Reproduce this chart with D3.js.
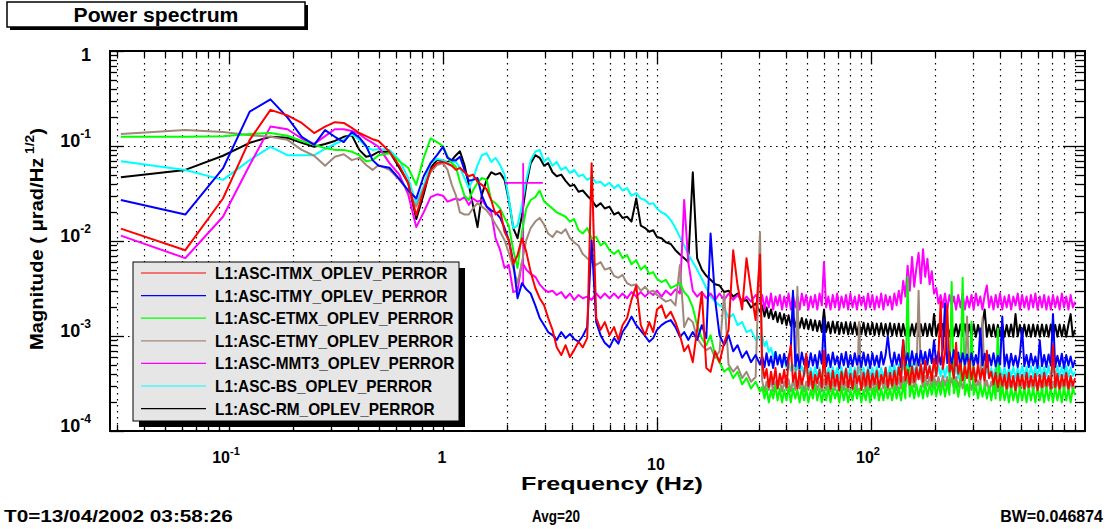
<!DOCTYPE html>
<html><head><meta charset="utf-8">
<script src="https://cdn.jsdelivr.net/npm/d3@7"></script>
<style>
body{margin:0;background:#fff}
svg{display:block}
text{font-family:"Liberation Sans",Arial,Helvetica,sans-serif;font-weight:bold;fill:#000}
</style>
</head><body>
<svg id="c" width="1110" height="529"></svg>
<script>
// ---------------- DATA ----------------
const freqLow = [0.03125,0.0625,0.09375,0.125,0.15625,0.1875,0.21875,0.25,0.28125,0.3125,0.34375,0.375,0.40625,0.4375,0.46875,0.5,0.5625,0.625,0.6875,0.75,0.8125,0.875,0.9375,1.0];
const freqMid = [1.05,1.1,1.15,1.2,1.26,1.32,1.38,1.45,1.52,1.6,1.68,1.76,1.85,1.94,2.03,2.13,2.23,2.34,2.45,2.57,2.7,2.83,2.97,3.1,3.25,3.4,3.57,3.74,3.92,4.1,4.3,4.5,4.72,4.95,5.2,5.45,5.7,6.0,6.3,6.6,6.9,7.25,7.6,8.0,8.4,8.8,9.2,9.6,10];
const freqHigh1 = [10.5,11,11.6,12.2,12.8,13.4,14,14.7,15.4,16.2,17,17.8,18.7,19.6,20.6,21.6,22.7,23.8,25,26.2,27.5,28.9,30.3];
const freqHigh2 = [31.0,31.8,32.5,33.3,34.1,34.9,35.8,36.6,37.5,38.4,39.3,40.3,41.2,42.2,43.2,44.3,45.3,46.4,47.5,48.7,49.8,51.0,52.3,53.5,54.8,56.1,57.5,58.9,60.3,61.7,63.2,64.7,66.3,67.9,69.5,71.1,72.8,74.6,76.4,78.2,80.1,82.0,84.0,86.0,88.0,90.1,92.3,94.5,96.8,99.1,101.5,103.9,106.4,109,111.6,114.3,117,119.8,122.7,125.6,128.6,131.7,134.9,138.1,141.4,144.8,148.3,151.8,155.5,159.2,163,166.9,170.9,175,179.2,183.5,187.9,192.4,197,201.8,206.6,211.5,216.6,221.8,227.1,232.6,238.2,243.9,249.7,255.7,261.8,268.1,274.5,281.1,287.9,294.8,301.8,309.1,316.5,324.1,331.8,339.8,347.9,356.3,364.8,373.6,382.5,391.7,401.1,410.7,420.6,430.7,441,451.6,462.4,473.5,484.9,496.5,508.4,520.6,533.1,545.9,559,572.5,586.2,600.3,614.7,629.5,644.6,660.1,675.9,692.1,708.7,725.7,743.1,760.9,779.2,797.9,817.1,836.7,856.8,877.4,898.4];

const seriesNames = ["L1:ASC-ITMX_OPLEV_PERROR","L1:ASC-ITMY_OPLEV_PERROR","L1:ASC-ETMX_OPLEV_PERROR","L1:ASC-ETMY_OPLEV_PERROR","L1:ASC-MMT3_OPLEV_PERROR","L1:ASC-BS_OPLEV_PERROR","L1:ASC-RM_OPLEV_PERROR"];
const seriesColors = ["#ff0000","#0000ff","#00ff00","#a0887a","#ff00ff","#00ffff","#000000"];

// magnitudes (urad/sqrt(Hz)) on freqLow + freqMid + freqHigh1 + freqHigh2
const itmx = [
0.0135,0.008,0.028,0.116,0.24,0.21,0.175,0.137,0.16,0.178,0.175,0.155,0.137,0.127,0.118,0.113,0.087,0.062,0.041,0.0187,0.034,0.056,0.066,0.068,
0.065,0.062,0.056,0.059,0.053,0.048,0.05,0.042,0.039,0.035,0.027,0.019,0.021,0.0125,0.0102,0.0057,0.0071,0.0107,0.0077,0.0047,0.0032,0.0025,0.0021,0.00155,0.00116,0.00076,0.00063,0.0008,0.0006,0.00071,0.00087,0.00076,0.00095,0.066,0.00155,0.00116,0.0014,0.00102,0.00124,0.00091,0.0013,0.00155,0.0024,0.0034,0.0013,0.00102,0.0014,0.0011,0.0019,
0.0021,0.00155,0.0018,0.0014,0.00102,0.00069,0.0008,0.00053,0.00116,0.0029,0.00046,0.00042,0.00069,0.00053,0.00085,0.00116,0.008,0.0034,0.0019,0.0066,0.003,0.00147,0.0072,
0.00052,0.00036,0.00045,0.00029,0.00042,0.00031,0.00046,0.00028,0.0004,0.00032,
0.00044,0.00029,0.00055,0.0008,0.00033,0.00041,0.00028,0.00043,0.00031,0.0004,
0.00065,0.0003,0.00042,0.00028,0.00039,0.00032,0.00044,0.00029,0.0007,0.00031,
0.00041,0.00028,0.00043,0.0003,0.00039,0.00027,0.00042,0.00031,0.00045,0.00029,
0.0004,0.00028,0.00043,0.00032,0.00038,0.00027,0.00041,0.0003,0.00044,0.00029,
0.0004,0.00031,0.00043,0.00028,0.00039,0.00032,0.00046,0.00029,0.00041,0.0003,
0.00043,0.00031,0.00047,0.00033,0.0009,0.00034,0.00044,0.00031,0.00048,0.00033,
0.00046,0.00035,0.0005,0.00033,0.00055,0.00036,0.00048,0.00034,0.00058,0.00038,
0.0006,0.0023,0.00045,0.00065,0.0021,0.00042,0.0005,0.00036,0.00085,0.0004,
0.00052,0.00034,0.00048,0.00036,0.00056,0.00035,0.00047,0.00033,0.0005,0.00035,
0.00045,0.00034,0.0007,0.00036,0.00042,0.00031,0.00041,0.00029,0.0004,0.0003,
0.00039,0.00028,0.00041,0.00029,0.00038,0.00027,0.0004,0.0003,0.00039,0.00028,
0.00041,0.00029,0.00038,0.0003,0.0004,0.00027,0.00039,0.00029,0.00041,0.0003,
0.00038,0.00028,0.0008,0.00029,0.0004,0.00028,0.00039,0.0003,0.00041,0.00028,
0.00038,0.0003,0.00036];

const itmy = [
0.027,0.019,0.058,0.23,0.31,0.2,0.125,0.103,0.147,0.125,0.11,0.14,0.123,0.1,0.071,0.062,0.059,0.045,0.034,0.028,0.048,0.066,0.08,0.098,
0.075,0.071,0.071,0.077,0.056,0.043,0.044,0.046,0.03,0.023,0.021,0.02,0.0175,0.0137,0.0102,0.006,0.0025,0.0036,0.0031,0.0028,0.0021,0.00155,0.0013,0.0011,0.00102,0.00091,0.0011,0.00095,0.00105,0.00093,0.00087,0.001,0.00124,0.0102,0.0014,0.00102,0.00085,0.00076,0.00095,0.00083,0.0011,0.0013,0.0016,0.0013,0.00114,0.001,0.00087,0.00095,0.00116,
0.0013,0.0014,0.00147,0.00124,0.00098,0.0011,0.00091,0.0011,0.00091,0.0013,0.00095,0.012,0.0024,0.00102,0.0008,0.00102,0.00069,0.0008,0.00059,0.00069,0.00053,0.00063,0.0005,
0.00062,0.00047,0.00066,0.00049,0.00061,0.00046,0.00068,0.0005,0.00063,0.00047,
0.00065,0.00049,0.0006,0.00072,0.003,0.00048,0.00064,0.00046,0.00067,0.0005,
0.00062,0.00047,0.00066,0.00049,0.00063,0.00046,0.00069,0.00051,0.0015,0.00048,
0.00064,0.00047,0.00067,0.0005,0.00061,0.00046,0.00065,0.00049,0.00068,0.00047,
0.00063,0.00048,0.00066,0.0005,0.00062,0.00047,0.00067,0.00049,0.00064,0.00046,
0.00066,0.00049,0.00062,0.00047,0.00068,0.0005,0.00063,0.001,0.00061,0.00048,
0.00067,0.0005,0.00064,0.00047,0.0009,0.00049,0.00066,0.00048,0.00069,0.0005,
0.00065,0.00049,0.0007,0.00051,0.00068,0.0005,0.00072,0.00052,0.0009,0.00051,
0.00069,0.0005,0.00073,0.0022,0.00052,0.00068,0.0005,0.00071,0.00049,0.00067,
0.00048,0.00066,0.0005,0.00064,0.00047,0.00066,0.00049,0.00063,0.00048,0.0012,
0.00049,0.00065,0.00047,0.00063,0.00049,0.00066,0.00048,0.00062,0.0005,0.0016,
0.00048,0.00064,0.00046,0.00065,0.00049,0.00062,0.00047,0.00064,0.0012,0.00048,
0.00063,0.00047,0.00065,0.00049,0.00061,0.00046,0.0009,0.00048,0.00063,0.00047,
0.00064,0.00049,0.0017,0.00047,0.00062,0.00048,0.00065,0.00046,0.00063,0.00049,
0.00061,0.00047,0.00056];

const etmx = [
0.125,0.125,0.127,0.134,0.137,0.128,0.113,0.103,0.095,0.091,0.091,0.087,0.08,0.069,0.071,0.08,0.084,0.069,0.059,0.039,0.075,0.12,0.11,0.1,
0.078,0.066,0.06,0.042,0.03,0.027,0.034,0.041,0.046,0.044,0.027,0.025,0.022,0.0175,0.0145,0.008,0.0052,0.0125,0.022,0.027,0.029,0.034,0.026,0.024,0.022,0.02,0.019,0.018,0.016,0.017,0.013,0.012,0.0137,0.0107,0.011,0.009,0.0097,0.008,0.0073,0.008,0.0066,0.0071,0.0057,0.0063,0.005,0.0055,0.0045,0.0047,0.004,
0.0037,0.0039,0.0032,0.0034,0.0036,0.0029,0.0026,0.002,0.0013,0.00095,0.0008,0.00102,0.00063,0.00053,0.00042,0.00046,0.00036,0.00042,0.00031,0.00036,0.00028,0.00033,0.00026,
0.00029,0.00022,0.00028,0.0002,0.00027,0.00022,0.0003,0.00021,0.00028,0.0002,
0.00027,0.00021,0.00029,0.0002,0.00028,0.00022,0.00027,0.0002,0.00029,0.00021,
0.00028,0.0002,0.00027,0.00022,0.0003,0.00021,0.00028,0.0002,0.00027,0.00021,
0.00029,0.0002,0.00028,0.00022,0.00027,0.0002,0.00029,0.00021,0.00028,0.0002,
0.00027,0.00021,0.00029,0.00022,0.00028,0.0002,0.00027,0.00021,0.00029,0.0002,
0.00028,0.00022,0.0003,0.00021,0.00028,0.00021,0.00029,0.00022,0.00028,0.00021,
0.0003,0.00022,0.00029,0.00021,0.00031,0.00022,0.0042,0.00023,0.0003,0.00022,
0.00031,0.00023,0.0003,0.00022,0.00032,0.00023,0.00031,0.00024,0.00033,0.00023,
0.00032,0.00024,0.00033,0.00023,0.00032,0.00024,0.0037,0.00025,0.00033,0.00023,
0.00032,0.0041,0.00024,0.00031,0.00023,0.0014,0.00024,0.0003,0.00022,0.00031,
0.00023,0.0003,0.00022,0.00029,0.00021,0.0003,0.00022,0.0012,0.00021,0.00029,
0.00021,0.00028,0.0002,0.00029,0.00021,0.00028,0.0002,0.00029,0.00021,0.00028,
0.0002,0.00029,0.00021,0.00028,0.0002,0.00029,0.00021,0.00028,0.0002,0.00029,
0.00021,0.00028,0.0002,0.00029,0.00021,0.00028,0.0002,0.00029,0.00021,0.00028,
0.0002,0.00028,0.00024];

const etmy = [
0.134,0.147,0.14,0.13,0.125,0.116,0.091,0.079,0.062,0.077,0.082,0.071,0.075,0.063,0.056,0.063,0.056,0.044,0.034,0.023,0.036,0.053,0.063,0.066,
0.056,0.039,0.03,0.02,0.019,0.019,0.022,0.025,0.023,0.021,0.018,0.015,0.0125,0.0102,0.0075,0.0052,0.0036,0.006,0.0102,0.0137,0.016,0.0175,0.0148,0.012,0.011,0.0127,0.012,0.0133,0.0107,0.0097,0.0089,0.0073,0.0066,0.006,0.0056,0.006,0.005,0.0052,0.0043,0.0041,0.0044,0.0036,0.0034,0.0035,0.003,0.0033,0.0029,0.003,0.0027,
0.0025,0.0023,0.0024,0.0021,0.0056,0.00124,0.00155,0.0014,0.00095,0.0008,0.00071,0.00076,0.00059,0.00069,0.0028,0.0005,0.00042,0.00048,0.00036,0.00042,0.00033,0.00037,0.0124,
0.00034,0.00026,0.00033,0.00027,0.00035,0.00026,0.00033,0.00028,0.00034,0.00026,
0.00033,0.00027,0.00035,0.00026,0.00034,0.00027,0.0033,0.00028,0.00034,0.00026,
0.00033,0.00027,0.00035,0.00026,0.00034,0.00027,0.00033,0.00026,0.00035,0.00027,
0.00034,0.00026,0.00033,0.00027,0.00035,0.00026,0.00034,0.00027,0.00033,0.00026,
0.00035,0.00027,0.00034,0.00026,0.0014,0.00027,0.00033,0.00026,0.00035,0.00027,
0.00034,0.00026,0.00033,0.00027,0.00035,0.00028,0.00034,0.00027,0.00036,0.00028,
0.00035,0.00027,0.00036,0.00028,0.00037,0.00029,0.00036,0.00028,0.00037,0.00029,
0.00036,0.003,0.00037,0.00029,0.00038,0.0003,0.00037,0.00029,0.00038,0.0003,
0.00037,0.00029,0.00038,0.0003,0.00037,0.00029,0.00036,0.00028,0.00037,0.00029,
0.00036,0.00028,0.00035,0.0016,0.00034,0.00027,0.00035,0.00028,0.00034,0.00027,
0.00155,0.00027,0.00034,0.00026,0.00033,0.00027,0.00034,0.00026,0.00033,0.00027,
0.00034,0.00026,0.00033,0.00027,0.00034,0.00026,0.00033,0.00027,0.00034,0.00026,
0.00033,0.00027,0.00034,0.00026,0.00033,0.00027,0.00034,0.00026,0.00033,0.00027,
0.00034,0.00026,0.00033,0.00027,0.00034,0.00026,0.00033,0.00027,0.00034,0.00026,
0.00033,0.00027,0.0003];

const mmt3 = [
0.0114,0.0066,0.018,0.063,0.16,0.15,0.12,0.105,0.127,0.15,0.15,0.144,0.134,0.118,0.108,0.098,0.066,0.05,0.031,0.014,0.02,0.029,0.031,0.03,
0.026,0.027,0.028,0.027,0.029,0.024,0.028,0.026,0.027,0.023,0.02,0.0107,0.008,0.0052,0.0056,0.0029,0.003,0.006,0.005,0.0045,0.0042,0.0035,0.0031,0.0029,0.003,0.0027,0.0029,0.0025,0.0028,0.0024,0.0027,0.0025,0.0026,0.0024,0.0028,0.0025,0.0028,0.0025,0.0028,0.0025,0.0028,0.0025,0.0029,0.0026,0.0029,0.0026,0.0029,0.0027,0.003,
0.0026,0.003,0.0027,0.0031,0.0028,0.027,0.006,0.003,0.0026,0.0029,0.0025,0.0028,0.0024,0.0028,0.0024,0.0028,0.0024,0.0027,0.0023,0.0026,0.0023,0.0027,0.0023,
0.0027,0.0019,0.0026,0.002,0.0028,0.0019,0.0026,0.0021,0.0027,0.0019,
0.0026,0.002,0.0028,0.0019,0.0027,0.002,0.0026,0.0019,0.0028,0.0021,
0.0027,0.0019,0.0026,0.002,0.0027,0.0019,0.0028,0.0021,0.006,0.002,
0.0026,0.0019,0.0027,0.002,0.0028,0.0019,0.0026,0.002,0.0027,0.0019,
0.0028,0.002,0.0026,0.0019,0.0027,0.0021,0.0026,0.0019,0.0028,0.002,
0.0027,0.0019,0.0026,0.002,0.0028,0.0019,0.0027,0.0021,0.0026,0.0019,
0.0028,0.0021,0.003,0.0022,0.0038,0.0026,0.0055,0.003,0.0068,0.0033,
0.0052,0.0075,0.0036,0.0082,0.0042,0.0065,0.0035,0.0048,0.0028,0.0032,
0.0022,0.0027,0.002,0.0028,0.0019,0.0027,0.0021,0.0026,0.0019,0.0027,
0.002,0.0028,0.0019,0.0026,0.002,0.0027,0.0019,0.0028,0.0021,0.0026,
0.0019,0.0027,0.0034,0.002,0.0026,0.0019,0.0027,0.002,0.0028,0.0019,
0.0026,0.002,0.0027,0.0019,0.0026,0.0021,0.0028,0.0019,0.0027,0.002,
0.0026,0.0019,0.0027,0.002,0.0028,0.0019,0.0026,0.002,0.0027,0.0019,
0.0026,0.0019,0.0027,0.002,0.0026,0.0019,0.0028,0.002,0.0026,0.0019,
0.0027,0.002,0.0023];
// stray MMT3 segments (frequency, magnitude)
const mmt3StrayH = [[1.95,0.041],[2.93,0.041]];
const mmt3StrayV = [[2.37,0.066],[2.37,0.0035]];

const bs = [
0.069,0.056,0.044,0.071,0.098,0.08,0.08,0.08,0.093,0.105,0.116,0.134,0.116,0.098,0.091,0.093,0.091,0.071,0.046,0.025,0.038,0.066,0.073,0.071,
0.066,0.068,0.068,0.059,0.046,0.036,0.044,0.063,0.08,0.084,0.068,0.075,0.063,0.05,0.028,0.0137,0.0145,0.024,0.044,0.071,0.087,0.091,0.068,0.075,0.062,0.068,0.056,0.06,0.052,0.056,0.048,0.05,0.044,0.047,0.041,0.042,0.038,0.041,0.036,0.039,0.034,0.036,0.03,0.032,0.028,0.027,0.0245,0.025,0.022,
0.02,0.019,0.0166,0.0137,0.011,0.009,0.0072,0.006,0.005,0.004,0.0032,0.0026,0.0023,0.0021,0.002,0.00155,0.0017,0.0013,0.0014,0.0011,0.00116,0.00091,0.00098,
0.001,0.00078,0.00088,0.00068,0.00075,0.00061,0.00068,0.00055,0.00062,0.0005,
0.00057,0.00046,0.00053,0.00043,0.0005,0.00041,0.00049,0.0004,0.00048,0.00038,
0.00047,0.00037,0.00046,0.00036,0.00047,0.00037,0.00046,0.00036,0.00047,0.00037,
0.00046,0.00036,0.00047,0.00037,0.00046,0.00036,0.00047,0.00036,0.00046,0.00037,
0.00047,0.00036,0.00046,0.00037,0.00047,0.00036,0.00046,0.00036,0.00047,0.00037,
0.00046,0.00036,0.00047,0.00037,0.00046,0.00036,0.00047,0.00037,0.00048,0.00038,
0.00049,0.00038,0.0005,0.00039,0.00051,0.0004,0.0005,0.00039,0.00051,0.0004,
0.0005,0.00039,0.00051,0.0004,0.0005,0.00039,0.00049,0.00038,0.0005,0.00039,
0.00048,0.00038,0.00049,0.00037,0.00048,0.00038,0.00047,0.00037,0.00048,0.00036,
0.00047,0.00037,0.00046,0.00036,0.00047,0.00037,0.00046,0.00036,0.00047,0.00036,
0.00046,0.00037,0.00047,0.00036,0.00046,0.00036,0.00047,0.00037,0.00046,0.00036,
0.00047,0.00036,0.00046,0.00037,0.00047,0.00036,0.00046,0.00037,0.00048,0.00037,
0.00047,0.00036,0.00048,0.00037,0.00047,0.00038,0.00048,0.00037,0.00047,0.00038,
0.00048,0.00037,0.00047,0.00038,0.00048,0.00037,0.00047,0.00038,0.00048,0.00037,
0.00047,0.00038,0.00042];

const rm = [
0.047,0.056,0.079,0.108,0.125,0.122,0.108,0.098,0.105,0.113,0.125,0.13,0.091,0.077,0.08,0.087,0.087,0.059,0.041,0.017,0.031,0.059,0.071,0.069,
0.068,0.071,0.08,0.088,0.063,0.039,0.024,0.014,0.031,0.044,0.053,0.05,0.052,0.044,0.027,0.0137,0.0107,0.0187,0.039,0.066,0.08,0.075,0.062,0.066,0.053,0.048,0.05,0.043,0.038,0.039,0.033,0.034,0.03,0.027,0.023,0.025,0.022,0.023,0.019,0.02,0.0175,0.018,0.016,0.028,0.0145,0.0137,0.0125,0.013,0.011,
0.0107,0.0097,0.0093,0.008,0.0072,0.0066,0.006,0.053,0.0066,0.005,0.0043,0.0039,0.0035,0.0034,0.0029,0.003,0.0026,0.0028,0.0023,0.0024,0.002,0.0022,0.0018,
0.0021,0.0016,0.002,0.00155,0.0019,0.0015,0.0018,0.0014,0.00175,0.00135,
0.0017,0.0013,0.00165,0.00128,0.0016,0.00125,0.00158,0.00122,0.00155,0.0012,
0.0015,0.00118,0.00148,0.00115,0.00146,0.00112,0.00144,0.0011,0.0019,0.0011,
0.0014,0.00106,0.00142,0.00108,0.0014,0.00105,0.00138,0.00106,0.0014,0.00104,
0.00137,0.00105,0.00139,0.00103,0.00136,0.00104,0.00138,0.00102,0.00135,0.00104,
0.00137,0.00102,0.00135,0.00103,0.00136,0.00101,0.00134,0.00102,0.00136,0.00101,
0.00134,0.00102,0.00135,0.001,0.00134,0.00101,0.00136,0.001,0.00133,0.00102,
0.00135,0.001,0.00133,0.00101,0.00135,0.001,0.00134,0.00101,0.0017,0.001,
0.00133,0.00099,0.00134,0.001,0.00132,0.00099,0.00134,0.001,0.00133,0.00099,
0.00132,0.001,0.00133,0.00098,0.00132,0.00099,0.00133,0.00098,0.00131,0.00099,
0.00132,0.0019,0.00098,0.00131,0.00099,0.00132,0.00098,0.00131,0.00099,0.00132,
0.00098,0.00131,0.00099,0.00132,0.00098,0.0017,0.00099,0.00131,0.00098,0.00132,
0.00099,0.00131,0.00098,0.00132,0.00099,0.00131,0.00098,0.00132,0.00099,0.00131,
0.00098,0.00132,0.00099,0.00131,0.00098,0.00132,0.00099,0.00131,0.00098,0.00132,
0.0017,0.00099,0.00116];

const xTickLabels = [{v:0.1,base:"10",sup:"-1"},{v:1,base:"1",sup:""},{v:10,base:"10",sup:""},{v:100,base:"10",sup:"2"}];
const yTickLabels = [{v:1,base:"1",sup:""},{v:0.1,base:"10",sup:"-1"},{v:0.01,base:"10",sup:"-2"},{v:0.001,base:"10",sup:"-3"},{v:0.0001,base:"10",sup:"-4"}];

// ---------------- DRAW ----------------
const svg = d3.select("#c");
const P = {l:110, r:1085, t:51, b:431};
const x = d3.scaleLog().domain([0.0278, 1000]).range([P.l, P.r]);
const y = d3.scaleLog().domain([1e-4, 1]).range([P.b, P.t]);

function fitX(g, target){
  const w = g.node().getBBox().width;
  if (w > 0) g.attr("transform", (g.attr("transform")||"") + ` scale(${target/w},1)`);
}

// title box
svg.append("rect").attr("x",10).attr("y",5).attr("width",298).attr("height",25).attr("fill","#000");
svg.append("rect").attr("x",7).attr("y",2).attr("width",298).attr("height",25).attr("fill","#fff").attr("stroke","#000").attr("stroke-width",1.5);
const tg = svg.append("g").attr("transform","translate(156,22)");
tg.append("text").attr("text-anchor","middle").style("font-size","21px").text("Power spectrum");
fitX(tg, 165);

// grid
const xGridVals = [];
for (let e=-2; e<=2; e++) for (let m=1; m<=9; m++){ const v = m*Math.pow(10,e); if (v>=0.028 && v<1000) xGridVals.push(v); }
const yTickVals = [];
for (let e=-4; e<=-1; e++) for (let m=1; m<=9; m++) yTickVals.push(m*Math.pow(10,e));
const isDecade = v => Math.abs(Math.log10(v) - Math.round(Math.log10(v))) < 1e-6;

const grid = svg.append("g").attr("stroke","#000").attr("stroke-width",1.2).attr("stroke-dasharray","1.6,4.4");
grid.selectAll("line.vx").data(xGridVals).join("line")
  .attr("x1",d=>Math.round(x(d))+0.5).attr("x2",d=>Math.round(x(d))+0.5).attr("y1",P.t).attr("y2",P.b);
grid.selectAll("line.hy").data([0.1,0.01,0.001]).join("line")
  .attr("x1",P.l).attr("x2",P.r).attr("y1",d=>Math.round(y(d))+0.5).attr("y2",d=>Math.round(y(d))+0.5);

// data lines
const clip = svg.append("clipPath").attr("id","plotclip");
clip.append("rect").attr("x",P.l).attr("y",P.t).attr("width",P.r-P.l).attr("height",P.b-P.t);
const freqAll = freqLow.concat(freqMid, freqHigh1, freqHigh2);
const seriesValues = [itmx, itmy, etmx, etmy, mmt3, bs, rm];
const line = d3.line().x(d=>x(d[0])).y(d=>y(d[1]));
const plot = svg.append("g").attr("clip-path","url(#plotclip)");
const order = [6,5,4,3,2,1,0];
order.forEach(i=>{
  const vals = seriesValues[i];
  const n = Math.min(vals.length, freqAll.length);
  if (vals.length !== freqAll.length) console.warn("length mismatch", i, vals.length, freqAll.length);
  const pts = d3.range(n).map(k=>[freqAll[k], vals[k]]);
  plot.append("path").attr("d", line(pts)).attr("fill","none").attr("stroke",seriesColors[i])
    .attr("stroke-width",2).attr("stroke-linejoin","round");
  if (i === 4){
    [mmt3StrayH, mmt3StrayV].forEach(seg=>{
      plot.append("path").attr("d", line(seg)).attr("fill","none").attr("stroke",seriesColors[i]).attr("stroke-width",1.8);
    });
  }
});

// ticks
const tk = svg.append("g").attr("stroke","#000").attr("stroke-width",1.3);
xGridVals.forEach(v=>{
  const xx = Math.round(x(v))+0.5, big = isDecade(v);
  tk.append("line").attr("x1",xx).attr("x2",xx).attr("y1",P.b).attr("y2",P.b-(big?13:6));
  tk.append("line").attr("x1",xx).attr("x2",xx).attr("y1",P.t).attr("y2",P.t+(big?13:6));
});
yTickVals.concat([1]).forEach(v=>{
  const yy = Math.round(y(v))+0.5, big = isDecade(v);
  tk.append("line").attr("x1",P.l).attr("x2",P.l+(big?14:7)).attr("y1",yy).attr("y2",yy);
  tk.append("line").attr("x1",P.r).attr("x2",P.r-(big?22:10)).attr("y1",yy).attr("y2",yy);
});

// frame
svg.append("rect").attr("x",P.l).attr("y",P.t).attr("width",P.r-P.l).attr("height",P.b-P.t)
  .attr("fill","none").attr("stroke","#000").attr("stroke-width",2);

// y tick labels
yTickLabels.forEach(t=>{
  const base = Math.min(Math.max(y(t.v)+1, 61), 439);
  const tx = svg.append("text").attr("x",91).attr("y",base).attr("text-anchor","end").style("font-size","18px");
  tx.append("tspan").text(t.base);
  if (t.sup) tx.append("tspan").attr("dy",-9).style("font-size","12px").text(t.sup);
});
// x tick labels
xTickLabels.forEach(t=>{
  const base = (!t.sup && t.base.length>1) ? 470 : 463;
  const tx = svg.append("text").attr("x",x(t.v)-(t.sup?3:1)).attr("y",base).attr("text-anchor","middle").style("font-size","16px");
  tx.append("tspan").text(t.base);
  if (t.sup) tx.append("tspan").attr("dy",-8).style("font-size","11px").text(t.sup);
});

// axis titles
const xt = svg.append("g").attr("transform","translate(612,490)");
xt.append("text").attr("text-anchor","middle").style("font-size","19px").text("Frequency (Hz)");
fitX(xt, 182);

const yt = svg.append("g").attr("transform","translate(43,239) rotate(-90)");
const ytt = yt.append("text").attr("text-anchor","middle").style("font-size","19px");
ytt.append("tspan").text("Magnitude ( \u03bcrad/Hz");
ytt.append("tspan").attr("dy",-9).style("font-size","13px").text(" 1/2");
ytt.append("tspan").attr("dy",9).text(")");
fitX(yt, 222);

// footer
const f1 = svg.append("g").attr("transform","translate(4,522)");
f1.append("text").style("font-size","16px").text("T0=13/04/2002 03:58:26");
fitX(f1, 229);
const f2 = svg.append("g").attr("transform","translate(556,522)");
f2.append("text").attr("text-anchor","middle").style("font-size","16px").text("Avg=20");
fitX(f2, 48);
const f3 = svg.append("g").attr("transform","translate(1103,522)");
f3.append("text").attr("text-anchor","end").style("font-size","16px").text("BW=0.046874");
fitX(f3, 103);

// legend
const L = {x:133, y:262, w:326, h:159};
svg.append("rect").attr("x",L.x+6).attr("y",L.y+6).attr("width",L.w).attr("height",L.h).attr("fill","#000");
svg.append("rect").attr("x",L.x).attr("y",L.y).attr("width",L.w).attr("height",L.h).attr("fill","#e6e6e6").attr("stroke","#000").attr("stroke-width",1);
let legScale = null;
seriesNames.forEach((name,i)=>{
  const ry = L.y + 11 + i*22.6;
  svg.append("line").attr("x1",141).attr("x2",206).attr("y1",ry).attr("y2",ry).attr("stroke",seriesColors[i]).attr("stroke-width",1.2);
  const g = svg.append("g").attr("transform",`translate(215,${ry+6})`);
  g.append("text").style("font-size","16px").text(name);
  if (legScale === null) legScale = 233 / g.node().getBBox().width;
  g.attr("transform", g.attr("transform") + ` scale(${legScale},1)`);
});
</script>
</body></html>
